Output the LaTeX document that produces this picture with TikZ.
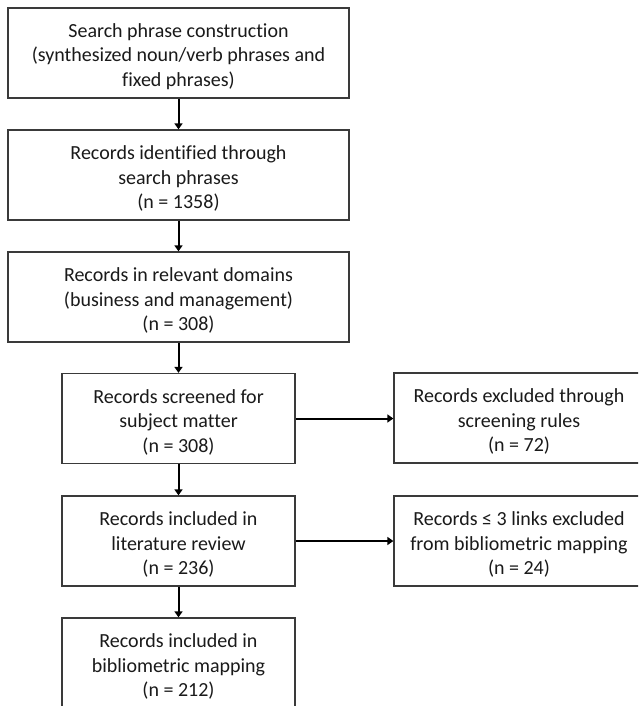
\documentclass[tikz,border=0pt]{standalone}
\usepackage{fontspec}
\setmainfont[Ligatures=NoCommon]{Carlito}
\usetikzlibrary{arrows.meta}
\definecolor{boxline}{HTML}{3A3A3A}
\definecolor{txt}{HTML}{1A1A1A}
\tikzset{
  flowbox/.style={draw=boxline, line width=1.3pt, fill=white, inner sep=0pt, minimum height=90pt},
  boxtext/.style={align=center, text=txt, font=\fontsize{20}{24.5}\selectfont, inner sep=0pt},
  widebox/.style={flowbox, minimum width=341pt},
  narrowbox/.style={flowbox, minimum width=233pt},
  sidebox/.style={flowbox, minimum width=250pt},
  flowarrow/.style={line width=2pt, -{Triangle[length=6pt,width=8pt]}}
}
\begin{document}
\begin{tikzpicture}[x=1pt,y=-1pt]
\useasboundingbox (0,0) rectangle (638,706);
\fill[white] (0,0) rectangle (638,706);
\clip (0,0) rectangle (638,706);
\node[widebox] (b1) at (178.5,53) {};
\node[widebox] (b2) at (178.5,175) {};
\node[widebox] (b3) at (178.5,297) {};
\node[narrowbox] (b4) at (178.5,418.5) {};
\node[narrowbox] (b5) at (178.5,541) {};
\node[narrowbox] (b6) at (178.5,663) {};
\node[sidebox] (s1) at (519,418) {};
\node[sidebox] (s2) at (519,541) {};
\node[boxtext] (t1) at ([yshift=-3.5pt]b1.center) {Search phrase construction\\(synthesized noun/verb phrases and\\fixed phrases)};
\node[boxtext] (t2) at ([yshift=-3.5pt]b2.center) {Records identified through\\search phrases\\(n = 1358)};
\node[boxtext] (t3) at ([yshift=-3.5pt]b3.center) {Records in relevant domains\\(business and management)\\(n = 308)};
\node[boxtext] (t4) at ([yshift=-3.5pt]b4.center) {Records screened for\\subject matter\\(n = 308)};
\node[boxtext] (t5) at ([yshift=-3.5pt]b5.center) {Records included in\\literature review\\(n = 236)};
\node[boxtext] (t6) at ([yshift=-3.5pt]b6.center) {Records included in\\bibliometric mapping\\(n = 212)};
\node[boxtext] (u1) at ([yshift=-3.5pt]s1.center) {Records excluded through\\screening rules\\(n = 72)};
\node[boxtext] (u2) at ([yshift=-3.5pt]s2.center) {Records ≤ 3 links excluded\\from bibliometric mapping\\(n = 24)};
\draw[flowarrow] (b1) -- (b2);
\draw[flowarrow] (b2) -- (b3);
\draw[flowarrow] (b3) -- (b4);
\draw[flowarrow] (b4) -- (b5);
\draw[flowarrow] (b5) -- (b6);
\draw[flowarrow] (b4.east) -- (s1.west |- b4.east);
\draw[flowarrow] (b5.east) -- (s2.west |- b5.east);
\end{tikzpicture}
\end{document}
